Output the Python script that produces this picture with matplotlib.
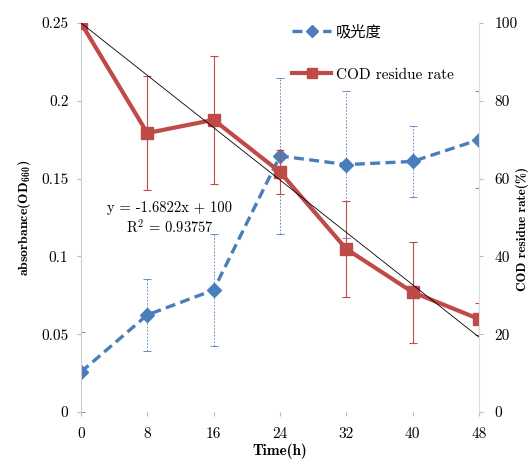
import matplotlib
matplotlib.use('Agg')
import matplotlib.pyplot as plt
from matplotlib.lines import Line2D

plt.rcParams['font.family'] = ['cmr10', 'Noto Sans CJK SC', 'DejaVu Sans']
plt.rcParams['mathtext.default'] = 'regular'
plt.rcParams['axes.unicode_minus'] = False

# data
hours = [0, 8, 16, 24, 32, 40, 48]
absorb = [0.0257, 0.0624, 0.0784, 0.1645, 0.1590, 0.1610, 0.1750]
absorb_err = [0.026, 0.023, 0.036, 0.050, 0.047, 0.023, 0.031]
cod = [100, 71.7, 75.1, 61.7, 41.9, 30.8, 23.9]
cod_err = [0, 14.7, 16.5, 5.7, 12.3, 13.0, 4.0]
slope, intercept = -1.6822, 100
r2 = '0.93757'

blue = '#4A7EBB'
red = '#BE4B48'
dash = (0, (3, 1.6))

fig = plt.figure(figsize=(5.31, 4.59), dpi=100)
ax = fig.add_axes([0.1525, 0.1024, 0.7495, 0.8476])
ax2 = ax.twinx()

# absorbance (left axis)
eb = ax.errorbar(hours, absorb, yerr=absorb_err, fmt='none', ecolor=blue,
                 elinewidth=0.6, capsize=3, capthick=0.6)
eb[2][0].set_linestyle((0, (2, 2)))
ax.plot(hours, absorb, color=blue, lw=2.4, ls=dash, marker='D', ms=7)

# COD residue rate (right axis)
ax2.errorbar(hours, cod, yerr=cod_err, fmt='none', ecolor=red,
             elinewidth=0.8, capsize=3, capthick=0.8)
ax2.plot(hours, cod, color=red, lw=3, marker='s', ms=8.5)
trend = [slope * h + intercept for h in hours]
ax2.plot([hours[0], hours[-1]], [trend[0], trend[-1]], color='black', lw=0.6)

ax.set_xlim(0, 48)
ax.set_ylim(0, 0.25)
ax2.set_ylim(0, 100)
ax.set_xticks(hours)
ax.set_xticklabels([str(h) for h in hours])
ax.set_yticks([0, 0.05, 0.1, 0.15, 0.2, 0.25])
ax.set_yticklabels(['0', '0.05', '0.1', '0.15', '0.2', '0.25'])
ax2.set_yticks([0, 20, 40, 60, 80, 100])

for a in (ax, ax2):
    for s in a.spines.values():
        s.set_visible(False)
    a.tick_params(labelsize=11, length=3, color='#BBBBBB', direction='out')
ax.spines['left'].set_visible(True)
ax.spines['left'].set_color('#CCCCCC')
ax2.spines['right'].set_visible(True)
ax2.spines['right'].set_color('#DDDDDD')
ax.tick_params(axis='x', pad=8)
ax.tick_params(axis='y', pad=6)
ax2.tick_params(axis='y', pad=8)

ax.set_xlabel('Time(h)', family='cmb10', fontsize=11, labelpad=2)
ax.set_ylabel('absorbance(OD$_{660}$)', family='cmb10', fontsize=10, labelpad=6)
ax2.set_ylabel('COD residue rate(%)', family='cmb10', fontsize=9.5)
ax2.yaxis.set_label_coords(1.092, 0.47)

ax.text(10.7, 0.124, 'y = -1.6822x + 100\nR$^{2}$ = ' + r2, ha='center', va='center',
        fontsize=10.5, linespacing=1.25)

handles = [Line2D([], [], color=blue, lw=2.4, ls=dash, marker='D', ms=6),
           Line2D([], [], color=red, lw=3, marker='s', ms=7.5)]
ax2.legend(handles, ['吸光度', 'COD residue rate'], loc='upper left',
           bbox_to_anchor=(0.495, 1.03), frameon=False, fontsize=11,
           labelspacing=1.85, handlelength=2.6, handletextpad=0.3)

fig.savefig('out.png', dpi=100)
